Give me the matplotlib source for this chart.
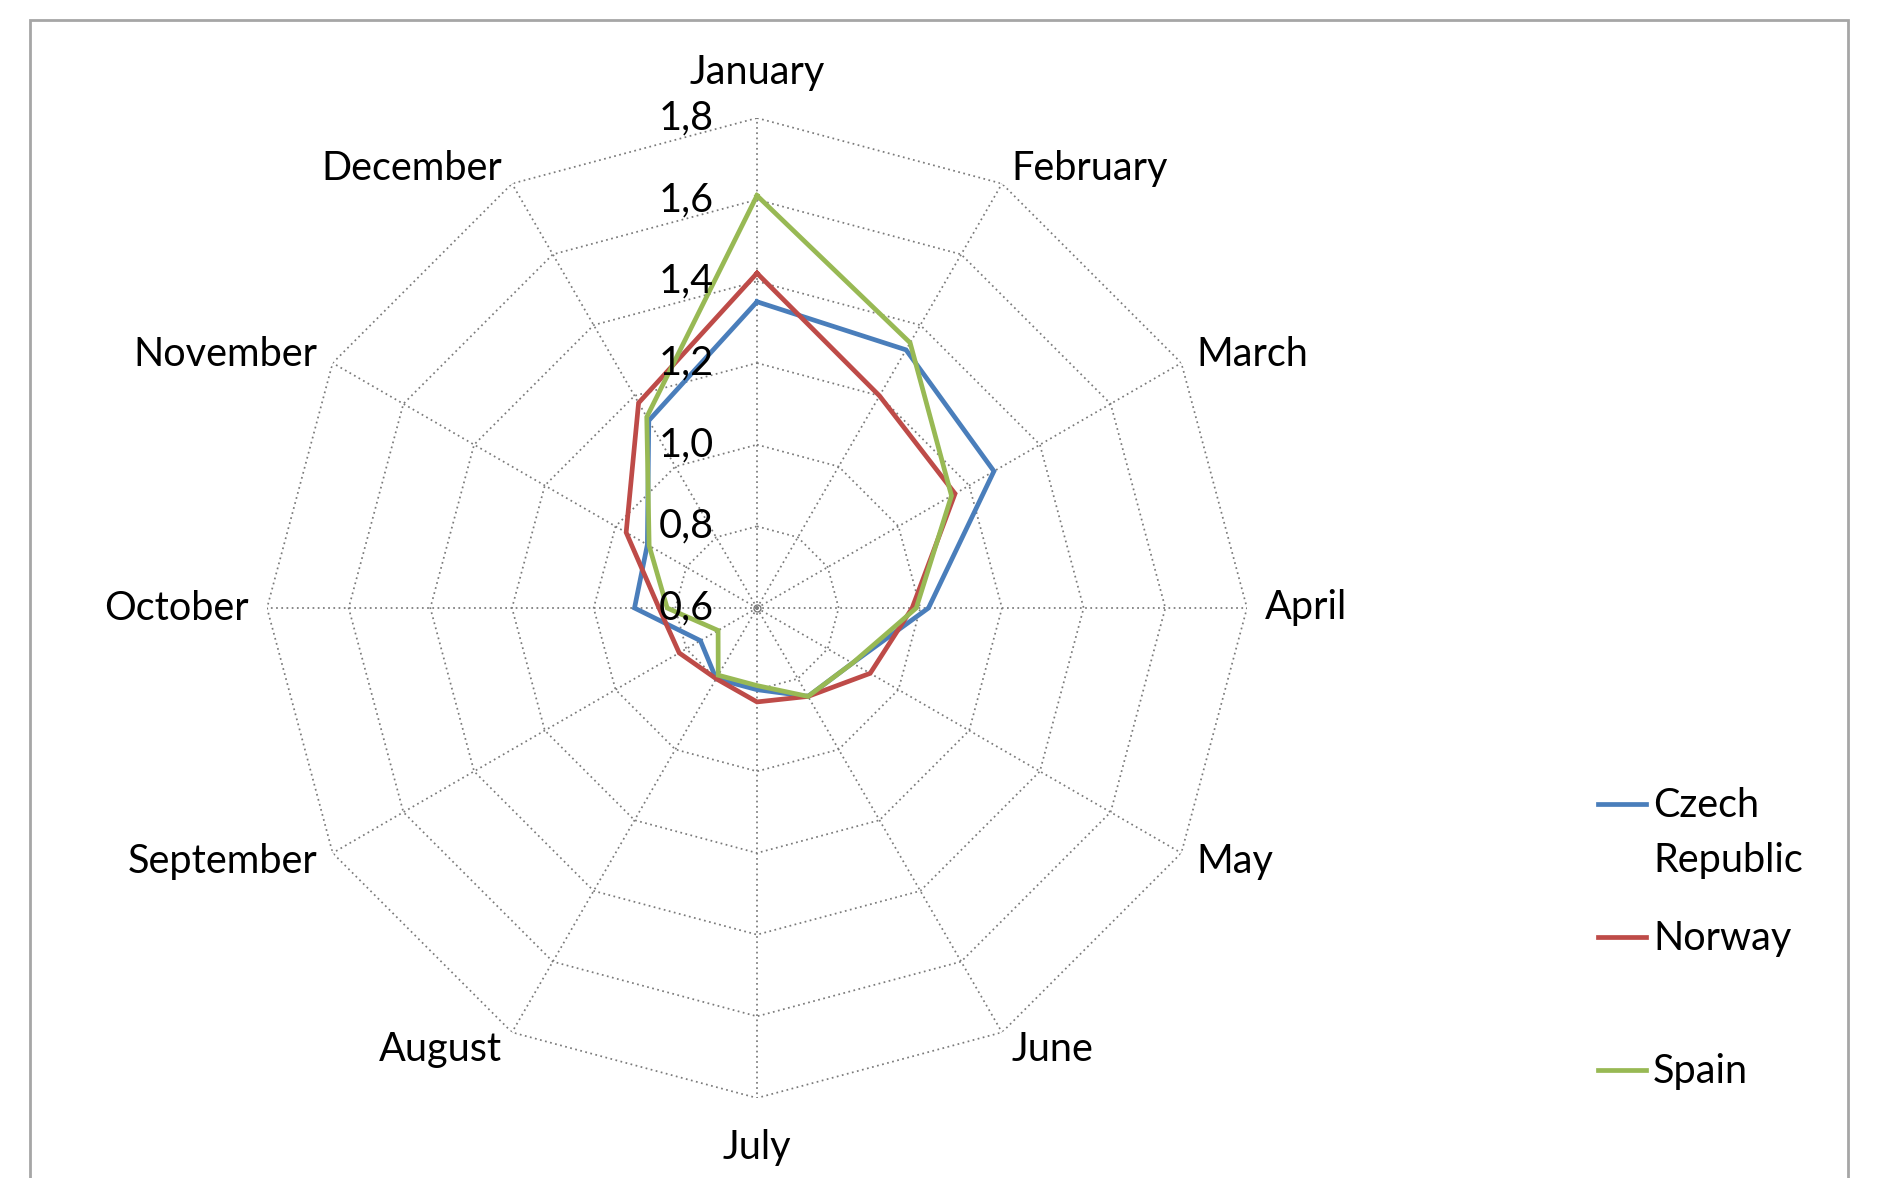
import numpy as np
import matplotlib
matplotlib.use("Agg")
import matplotlib.pyplot as plt
from matplotlib.patches import Rectangle
from matplotlib.lines import Line2D

plt.rcParams['font.family'] = ['Lato', 'DejaVu Sans']

# data
months = ['January', 'February', 'March', 'April', 'May', 'June',
          'July', 'August', 'September', 'October', 'November', 'December']
czech = [1.35, 1.33, 1.27, 1.02, 0.87, 0.85, 0.80, 0.80, 0.76, 0.90, 0.91, 1.13]
norway = [1.42, 1.20, 1.16, 0.98, 0.92, 0.85, 0.83, 0.80, 0.82, 0.84, 0.97, 1.18]
spain = [1.61, 1.35, 1.15, 0.99, 0.87, 0.85, 0.79, 0.79, 0.71, 0.82, 0.905, 1.14]
series_names = ['Czech\nRepublic', 'Norway', 'Spain']
series_colors = ['#4A7EBB', '#BE4B48', '#98B954']
ring_values = [0.8, 1.0, 1.2, 1.4, 1.6, 1.8]
tick_values = [0.6, 0.8, 1.0, 1.2, 1.4, 1.6, 1.8]
tick_labels = ['0,6', '0,8', '1,0', '1,2', '1,4', '1,6', '1,8']

W, H = 1877, 1178
FS = 28.5
fig = plt.figure(figsize=(W / 100, H / 100), dpi=100)

# outer chart frame (bottom edge is cut off in the reference)
fig.add_artist(Rectangle((30 / W, -0.05), (1848 - 30) / W, 1.05 - 20 / H,
                         transform=fig.transFigure, fill=False,
                         ec='#a6a6a6', lw=2))

cx, cy, R = 757, 608, 490
ax = fig.add_axes([(cx - R) / W, (H - cy - R) / H, 2 * R / W, 2 * R / H],
                  projection='polar')
ax.set_theta_zero_location('N')
ax.set_theta_direction(-1)
ax.set_ylim(0.6, 1.8)
ax.grid(False)
ax.set_xticks([])
ax.set_yticks([])
ax.spines['polar'].set_visible(False)

theta = np.linspace(0, 2 * np.pi, len(months), endpoint=False)
closed = np.append(theta, theta[0])

grid_kw = dict(color='#7a7a7a', lw=1.25, ls=(0, (1, 2)), zorder=1)
for r in ring_values:
    ax.plot(closed, [r] * len(closed), **grid_kw)
for t in theta:
    ax.plot([t, t], [0.6, 1.8], **grid_kw)
ax.plot([0], [0.6], marker='o', ms=5, mfc='none', mec='#7a7a7a', mew=1, zorder=1)

for vals, c in zip([czech, norway, spain], series_colors):
    ax.plot(closed, np.append(vals, vals[0]), color=c, lw=3.4, zorder=3,
            solid_joinstyle='miter')

# radial tick labels left of the January spoke
for v, lab in zip(tick_values, tick_labels):
    ax.annotate(lab, xy=(0, v), xytext=(-31, 0), textcoords='offset points',
                ha='right', va='center', fontsize=FS, annotation_clip=False)

# month labels around the outside
offsets = [(0, 33, 'center'), (7, 11, 'left'), (11, 6, 'left'), (13, 0, 'left'),
           (11, -6, 'left'), (7, -12, 'left'), (0, -36, 'center'),
           (-7, -12, 'right'), (-11, -6, 'right'), (-13, 0, 'right'),
           (-11, 6, 'right'), (-7, 11, 'right')]
for t, m, (dx, dy, ha) in zip(theta, months, offsets):
    ax.annotate(m, xy=(t, 1.8), xytext=(dx, dy), textcoords='offset points',
                ha=ha, va='center', fontsize=FS, annotation_clip=False)

# legend drawn by hand to match the Excel layout
legend_y = [804, 937, 1070]
for name, c, y in zip(series_names, series_colors, legend_y):
    fig.add_artist(Line2D([1598 / W, 1646 / W], [1 - y / H, 1 - y / H],
                          color=c, lw=3.4, transform=fig.transFigure))
    fig.text(1653 / W, 1 - (y - 17) / H, name, ha='left', va='top',
             fontsize=FS, linespacing=1.6)

fig.savefig('out.png', dpi=100)
